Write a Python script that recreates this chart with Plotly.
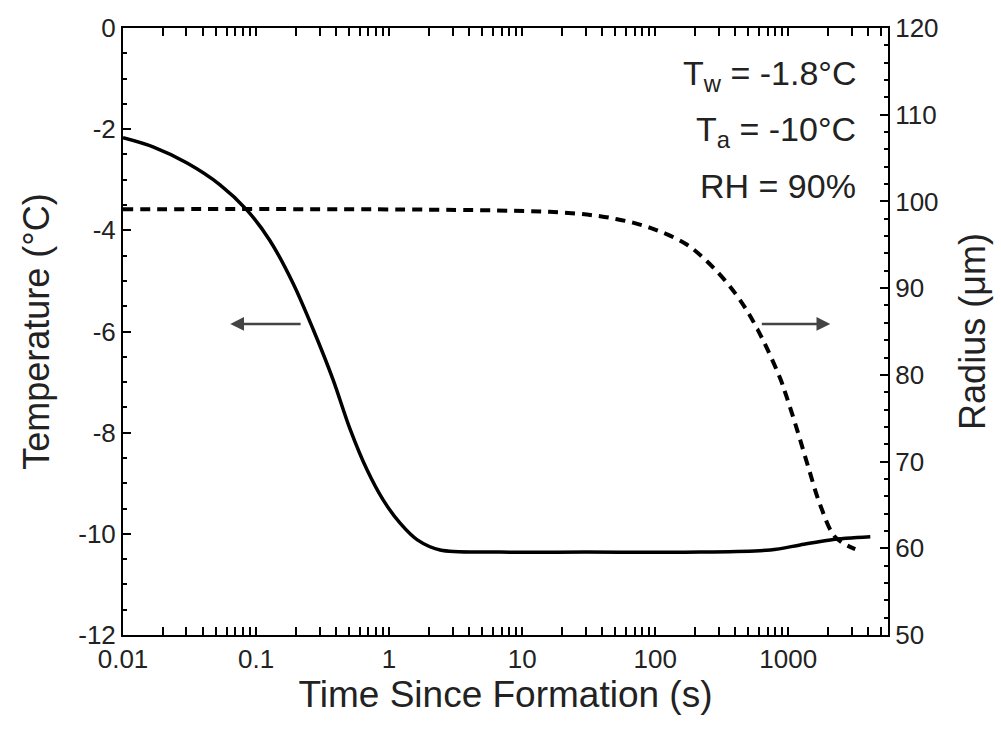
import math
import plotly.graph_objects as go

# Temperature curve (left axis)
time_temp = [0.01, 0.0168, 0.0303, 0.0536, 0.0855, 0.127, 0.19, 0.268, 0.379, 0.509, 0.684, 0.902, 1.21, 1.63, 2.42, 6.84, 30, 218, 733, 1230, 2070, 4140]
temperature = [-2.17, -2.35, -2.67, -3.10, -3.60, -4.20, -5.05, -5.95, -6.95, -7.93, -8.74, -9.33, -9.79, -10.12, -10.32, -10.36, -10.36, -10.36, -10.32, -10.22, -10.12, -10.06]

# Radius curve (right axis)
time_rad = [0.01, 16, 38.5, 51.7, 68, 92, 123, 174, 230, 309, 400, 490, 585, 700, 870, 966, 1170, 1413, 1740, 2255, 3190]
radius = [99.1, 98.8, 98.3, 97.95, 97.55, 96.95, 96.2, 95.0, 93.5, 91.5, 89.4, 87.4, 85.3, 82.9, 79.6, 77.6, 73.6, 69.4, 65.0, 61.3, 59.9]

# Arrow annotations: (tail time, head time, temperature level)
arrow_left = (0.222, 0.064, -5.85)
arrow_right = (617, 2070, -5.85)

labels = ["T<sub>w</sub> = -1.8°C", "T<sub>a</sub> = -10°C", "RH = 90%"]
label_y = [0.921, 0.830, 0.739]

temp_ticks = [0, -2, -4, -6, -8, -10, -12]
temp_ticktext = ["0", "-2", "-4", "-6", "-8", "-10", "-12"]
rad_ticks = [50, 60, 70, 80, 90, 100, 110, 120]
time_ticks = [0.01, 0.1, 1, 10, 100, 1000]
time_ticktext = ["0.01", "0.1", "1", "10", "100", "1000"]

font = "Liberation Sans, Arial, sans-serif"

fig = go.Figure()
fig.add_trace(go.Scatter(x=time_temp, y=temperature, mode="lines",
                         line=dict(color="black", width=3.5, shape="spline", smoothing=0.9), showlegend=False))
fig.add_trace(go.Scatter(x=time_rad, y=radius, mode="lines", yaxis="y2",
                         line=dict(color="black", width=4, dash="10px,7px", shape="spline", smoothing=1.0), showlegend=False))

for tail, head, lvl in (arrow_left, arrow_right):
    fig.add_annotation(x=math.log10(head), y=lvl, ax=math.log10(tail), ay=lvl, xref="x", yref="y", axref="x", ayref="y",
                       text="", showarrow=True, arrowhead=2, arrowsize=1.1, arrowwidth=2.5, arrowcolor="#444")

label_x = (858 - 123) / (888 - 123)
for lab, yy in zip(labels, label_y):
    fig.add_annotation(x=label_x, y=yy, xref="paper", yref="paper", text=lab, showarrow=False,
                       xanchor="right", yanchor="middle", font=dict(size=34, color="#222", family=font))

fig.update_layout(
    width=1001, height=742,
    margin=dict(l=123, r=113, t=28, b=107),
    paper_bgcolor="white", plot_bgcolor="white",
    font=dict(family=font, color="#222", size=26),
    xaxis=dict(type="log", range=[-2, 3.75], tickvals=time_ticks, ticktext=time_ticktext,
               ticks="inside", ticklen=8, tickwidth=2, tickcolor="black",
               minor=dict(ticks="inside", ticklen=4, tickwidth=2, tickcolor="black", dtick="D1", showgrid=False),
               showline=True, linecolor="black", linewidth=2, mirror="allticks", showgrid=False, zeroline=False,
               title=dict(text="Time Since Formation (s)", font=dict(size=37), standoff=4)),
    yaxis=dict(range=[-12, 0], tickvals=temp_ticks, ticktext=temp_ticktext,
               ticks="inside", ticklen=8, tickwidth=2, tickcolor="black",
               minor=dict(ticks="inside", ticklen=4, tickwidth=2, tickcolor="black", dtick=0.5, showgrid=False),
               showline=True, linecolor="black", linewidth=2, showgrid=False, zeroline=False,
               title=dict(text="Temperature (°C)", font=dict(size=36), standoff=18)),
    yaxis2=dict(range=[50, 120], tickvals=rad_ticks, overlaying="y", side="right",
                ticks="inside", ticklen=8, tickwidth=2, tickcolor="black",
                minor=dict(ticks="inside", ticklen=4, tickwidth=2, tickcolor="black", dtick=2, showgrid=False),
                showline=True, linecolor="black", linewidth=2, showgrid=False, zeroline=False,
                title=dict(text="Radius (μm)", font=dict(size=36), standoff=22)),
)

fig.write_html("out.html")
